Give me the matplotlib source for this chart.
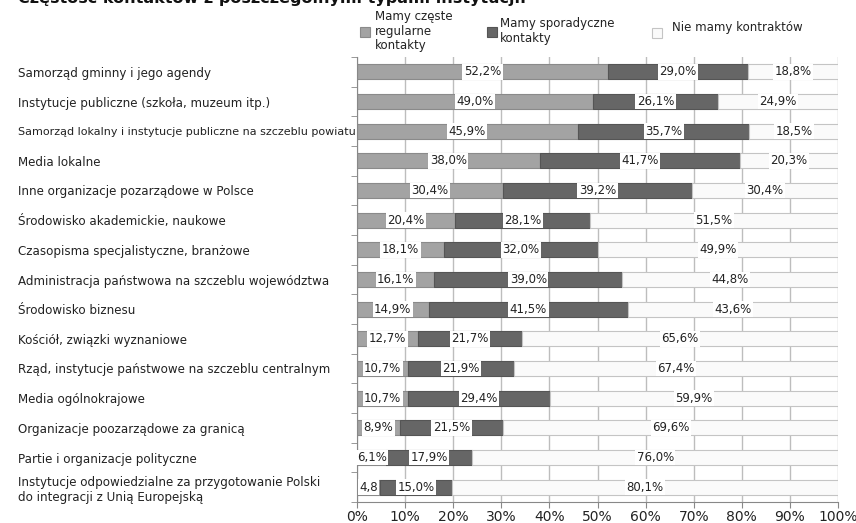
import numpy as np
import matplotlib
matplotlib.use('Agg')
import matplotlib.pyplot as plt
from matplotlib.patches import Rectangle

categories = [
    'Samorząd gminny i jego agendy',
    'Instytucje publiczne (szkoła, muzeum itp.)',
    'Samorząd lokalny i instytucje publiczne na szczeblu powiatu',
    'Media lokalne',
    'Inne organizacje pozarządowe w Polsce',
    'Środowisko akademickie, naukowe',
    'Czasopisma specjalistyczne, branżowe',
    'Administracja państwowa na szczeblu województwa',
    'Środowisko biznesu',
    'Kościół, związki wyznaniowe',
    'Rząd, instytucje państwowe na szczeblu centralnym',
    'Media ogólnokrajowe',
    'Organizacje poozarządowe za granicą',
    'Partie i organizacje polityczne',
    'Instytucje odpowiedzialne za przygotowanie Polski\ndo integracji z Unią Europejską',
]
frequent = [52.2, 49.0, 45.9, 38.0, 30.4, 20.4, 18.1, 16.1, 14.9, 12.7, 10.7, 10.7, 8.9, 6.1, 4.8]
sporadic = [29.0, 26.1, 35.7, 41.7, 39.2, 28.1, 32.0, 39.0, 41.5, 21.7, 21.9, 29.4, 21.5, 17.9, 15.0]
none_ = [18.8, 24.9, 18.5, 20.3, 30.4, 51.5, 49.9, 44.8, 43.6, 65.6, 67.4, 59.9, 69.6, 76.0, 80.1]
series_names = ['Mamy częste\nregularne\nkontakty', 'Mamy sporadyczne\nkontakty', 'Nie mamy kontraktów']
colors = ['#a3a3a3', '#666666', '#fafafa']
edges = ['#8a8a8a', '#555555', '#c4c4c4']
xticks = np.arange(0, 101, 10)

W, H = 856, 523
fig = plt.figure(figsize=(W / 100, H / 100), dpi=100)
ax = fig.add_axes([357 / W, 21 / H, (838 - 357) / W, (502 - 57) / H])

y = np.arange(len(categories))
left = np.zeros(len(categories))
for vals, c, ec in zip([frequent, sporadic, none_], colors, edges):
    vals = np.array(vals)
    ax.barh(y, vals, left=left, height=0.5, color=c, edgecolor=ec, linewidth=0.8, zorder=2)
    for yi, l, v in zip(y, left, vals):
        txt = ('%.1f' % v).replace('.', ',') + '%'
        if v == 4.8:
            txt = '4,8'
        ax.text(l + v / 2, yi, txt, ha='center', va='center', fontsize=8.5, color='#222222', zorder=4,
                bbox=dict(boxstyle='square,pad=0.12', fc='white', ec='none'))
    left += vals

ax.set_xlim(0, 100)
ax.set_ylim(len(categories) - 0.5, -0.5)
ax.set_xticks(xticks)
ax.set_xticklabels(['%d%%' % t for t in xticks], fontsize=10, color='#222222')
ax.grid(axis='x', color='#bdbdbd', linewidth=1, zorder=0)
ax.set_axisbelow(True)
for s in ['top', 'right']:
    ax.spines[s].set_visible(False)
ax.spines['left'].set_color('#888888')
ax.spines['bottom'].set_color('#888888')
ax.tick_params(axis='x', length=4, color='#888888', pad=2)

ax.set_yticks(y)
ax.set_yticklabels(categories, ha='left', fontsize=8.6, color='#222222')
ax.tick_params(axis='y', which='major', length=0, pad=339 * 0.72)
ax.set_yticks(np.arange(-0.5, len(categories), 1), minor=True)
ax.tick_params(axis='y', which='minor', length=4, color='#888888')
ax.get_yticklabels()[2].set_fontsize(8)

# title (clipped at the top edge, as in the source)
fig.text(18 / W, 1 - 3 / H, 'Częstość kontaktów z poszczególnymi typami instytucji.',
         fontsize=11.5, fontweight='bold', ha='left', va='baseline', color='#111111')

# legend
leg = [(360, 32, 375, 31), (487, 32, 500, 31), (652, 33, 672, 27)]
for (sx, sy, tx, ty), name, c, ec in zip(leg, series_names, colors, edges):
    fig.add_artist(Rectangle((sx / W, 1 - (sy + 5) / H), 10 / W, 10 / H, transform=fig.transFigure,
                             fc=c, ec=ec, lw=0.8))
    fig.text(tx / W, 1 - ty / H, name, fontsize=8.5, ha='left', va='center', color='#222222',
             linespacing=1.15)

fig.savefig('out.png', dpi=100)
